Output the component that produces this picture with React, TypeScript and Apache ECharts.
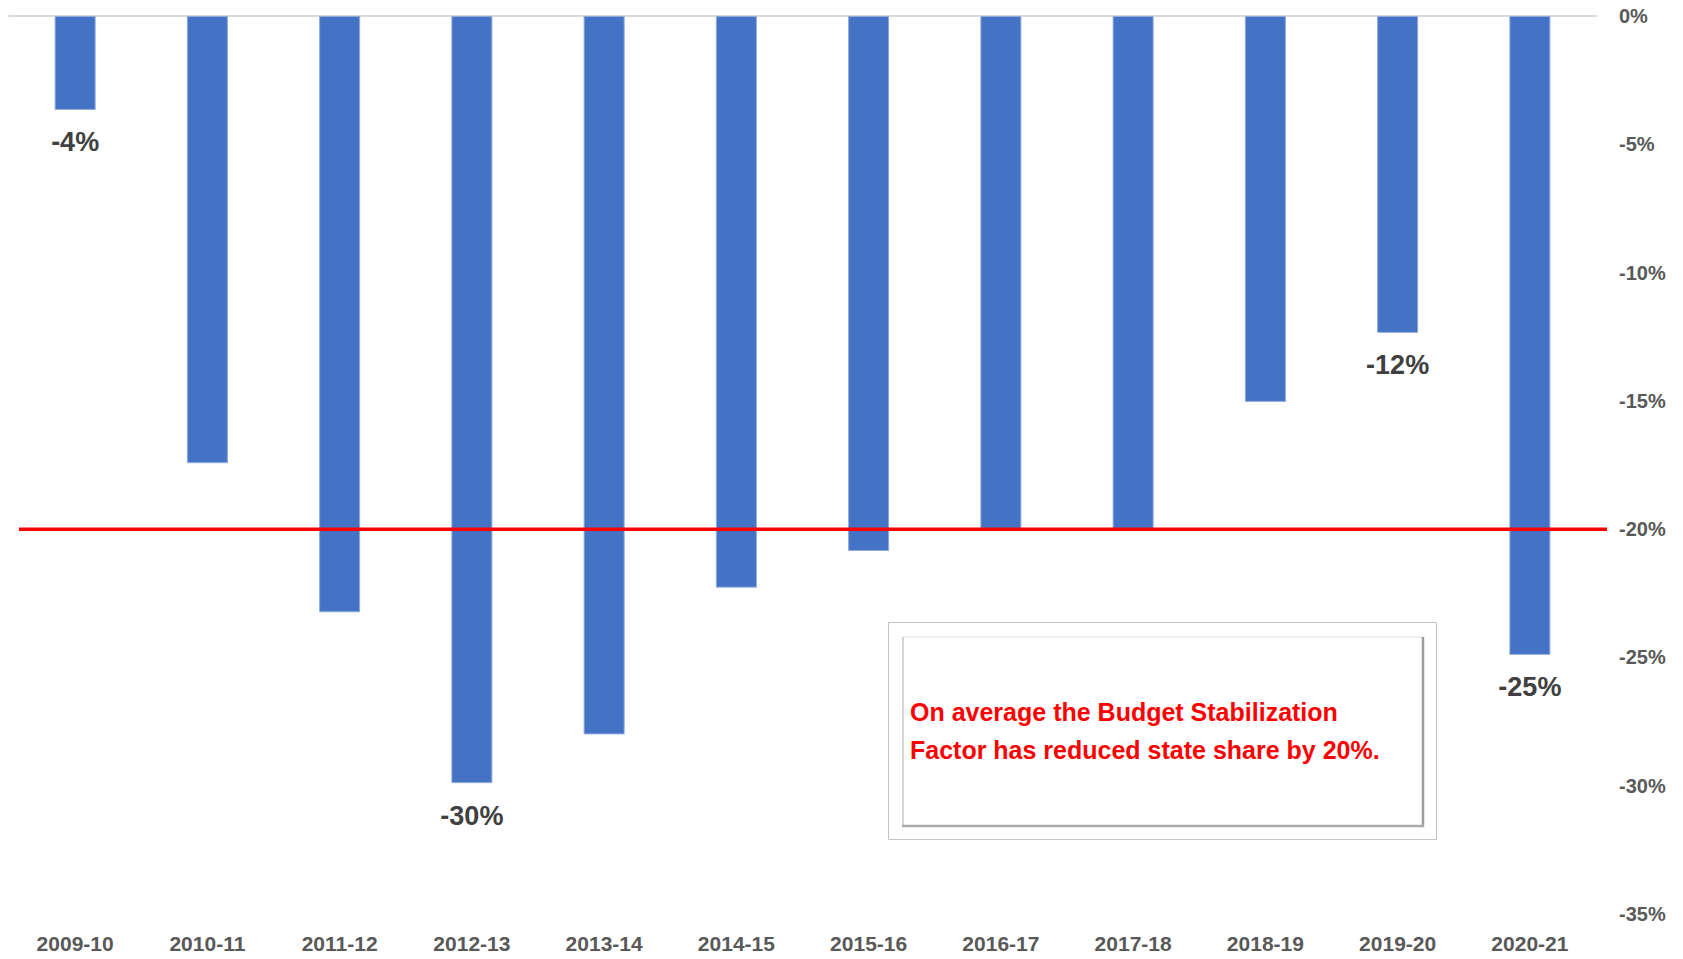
import React, { useEffect, useRef } from "react";
import * as echarts from "echarts";

const categories = [
  "2009-10", "2010-11", "2011-12", "2012-13", "2013-14", "2014-15",
  "2015-16", "2016-17", "2017-18", "2018-19", "2019-20", "2020-21",
];
const values = [-3.66, -17.43, -23.24, -29.9, -28.0, -22.28, -20.85, -20.0, -20.0, -15.04, -12.35, -24.9];
const valueLabels = ["-4%", "", "", "-30%", "", "", "", "", "", "", "-12%", "-25%"];
const yMin = -35;
const yMax = 0;
const yInterval = 5;
const averageValue = -20;
const noteLines = [
  "On average the Budget Stabilization",
  "Factor has reduced state share by 20%.",
];

const FONT = "'Liberation Sans', Arial, sans-serif";

export default function App() {
  const ref = useRef<HTMLDivElement>(null);

  useEffect(() => {
    if (!ref.current) return;
    const chart = echarts.init(ref.current, undefined, { renderer: "svg" });

    const option: any = {
      animation: false,
      backgroundColor: "#ffffff",
      textStyle: { fontFamily: FONT },
      grid: [
        { left: 9, right: 87, top: 16, bottom: 45, containLabel: false, outerBoundsMode: "none" },
        { left: 19, right: 76, top: 16, bottom: 45, containLabel: false, outerBoundsMode: "none" },
      ],
      xAxis: [
        {
          type: "category",
          gridIndex: 0,
          data: categories,
          position: "bottom",
          axisLine: { show: false },
          axisTick: { show: false },
          splitLine: { show: false },
          axisLabel: {
            margin: 19,
            fontSize: 21,
            fontWeight: "bold",
            color: "#595959",
            fontFamily: FONT,
            interval: 0,
          },
        },
        {
          type: "category",
          gridIndex: 0,
          data: categories,
          position: "top",
          axisLine: { show: true, onZero: false, lineStyle: { color: "#d9d9d9", width: 2 } },
          axisTick: { show: false },
          axisLabel: { show: false },
          splitLine: { show: false },
        },
        {
          type: "value",
          gridIndex: 1,
          min: 0,
          max: 1,
          show: false,
        },
      ],
      yAxis: [
        {
          type: "value",
          gridIndex: 0,
          position: "right",
          min: yMin,
          max: yMax,
          interval: yInterval,
          axisLine: { show: false },
          axisTick: { show: false },
          splitLine: { show: false },
          axisLabel: {
            formatter: "{value}%",
            margin: 23,
            fontSize: 20,
            fontWeight: "bold",
            color: "#595959",
            fontFamily: FONT,
          },
        },
        {
          type: "value",
          gridIndex: 1,
          min: yMin,
          max: yMax,
          show: false,
        },
      ],
      series: [
        {
          type: "bar",
          xAxisIndex: 0,
          yAxisIndex: 0,
          barWidth: 41,
          itemStyle: { color: "#4472C4", borderColor: "#8eaadb", borderWidth: 1 },
          data: values.map((v, i) => ({
            value: v,
            label: {
              show: valueLabels[i] !== "",
              formatter: valueLabels[i],
            },
          })),
          label: {
            position: "bottom",
            distance: 19,
            fontSize: 27,
            fontWeight: "bold",
            color: "#404040",
            fontFamily: FONT,
          },
        },
        {
          type: "line",
          xAxisIndex: 2,
          yAxisIndex: 1,
          symbol: "none",
          silent: true,
          z: 5,
          lineStyle: { color: "#FF0000", width: 3.5 },
          data: [
            [0, averageValue],
            [1, averageValue],
          ],
        },
      ],
      graphic: [
        {
          type: "rect",
          shape: { x: 888.5, y: 622.5, width: 548, height: 217 },
          style: { fill: "#ffffff", stroke: "#c3c3c3", lineWidth: 1 },
          z: 10,
        },
        {
          type: "line",
          shape: { x1: 902, y1: 637, x2: 1423, y2: 637 },
          style: { stroke: "#f0f0f0", lineWidth: 2 },
          z: 11,
        },
        {
          type: "line",
          shape: { x1: 903, y1: 637, x2: 903, y2: 826 },
          style: { stroke: "#d4d4d4", lineWidth: 2 },
          z: 11,
        },
        {
          type: "line",
          shape: { x1: 1423, y1: 637, x2: 1423, y2: 827 },
          style: { stroke: "#9c9c9c", lineWidth: 2.5 },
          z: 11,
        },
        {
          type: "line",
          shape: { x1: 902, y1: 826, x2: 1424, y2: 826 },
          style: { stroke: "#ababab", lineWidth: 2.5 },
          z: 11,
        },
        ...noteLines.map((t, i) => ({
          type: "text",
          x: 910,
          y: 712 + i * 38,
          z: 12,
          style: {
            text: t,
            fill: "#FF0000",
            font: `bold 25px ${FONT}`,
            textVerticalAlign: "middle",
            verticalAlign: "middle",
            align: "left",
          },
        })),
      ],
    };

    chart.setOption(option);
    return () => {
      chart.dispose();
    };
  }, []);

  return (
    <div
      ref={ref}
      style={{ position: "fixed", left: 0, top: 0, width: 1683, height: 959, background: "#fff" }}
    />
  );
}
